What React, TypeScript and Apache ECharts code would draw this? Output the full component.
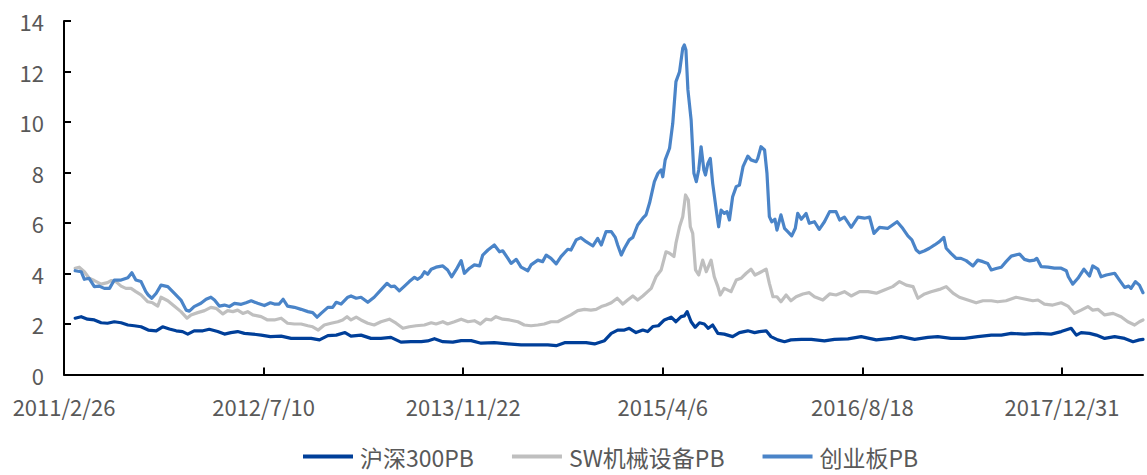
import React, { useEffect, useRef } from "react";
import * as echarts from "echarts";

// Days since 2011/2/26 and PB values
const hs300Days = [28,43,59,76,93,109,126,143,160,176,193,211,231,247,264,281,297,310,326,348,364,385,402,418,435,452,473,494,517,544,569,594,619,640,661,682,704,719,744,769,794,819,844,869,895,911,928,949,974,995,1020,1045,1078,1112,1145,1178,1212,1233,1254,1283,1308,1329,1354,1371,1387,1404,1416,1433,1450,1462,1475,1489,1504,1521,1533,1546,1554,1561,1571,1581,1592,1604,1614,1625,1638,1654,1675,1692,1713,1730,1742,1759,1771,1788,1805,1821,1847,1872,1905,1930,1964,1997,2035,2072,2097,2131,2164,2189,2222,2256,2289,2323,2348,2373,2406,2440,2473,2498,2523,2536,2548,2569,2586,2607,2632,2657,2678,2694,2703];
const hs300PB = [2.23,2.29,2.19,2.16,2.05,2.03,2.09,2.05,1.96,1.93,1.89,1.76,1.73,1.89,1.8,1.73,1.7,1.6,1.73,1.73,1.79,1.7,1.6,1.66,1.7,1.63,1.6,1.56,1.5,1.52,1.43,1.43,1.43,1.37,1.54,1.56,1.66,1.52,1.56,1.43,1.43,1.47,1.28,1.3,1.3,1.33,1.42,1.3,1.28,1.34,1.34,1.24,1.26,1.21,1.17,1.17,1.17,1.14,1.26,1.26,1.26,1.21,1.34,1.63,1.76,1.76,1.83,1.66,1.76,1.7,1.9,1.93,2.16,2.27,2.09,2.29,2.32,2.49,2.09,1.87,2.05,2.0,1.83,1.96,1.63,1.6,1.5,1.66,1.73,1.66,1.7,1.73,1.5,1.37,1.3,1.37,1.39,1.39,1.33,1.39,1.41,1.5,1.37,1.43,1.5,1.39,1.47,1.5,1.43,1.43,1.5,1.56,1.56,1.63,1.6,1.63,1.6,1.7,1.83,1.56,1.66,1.63,1.56,1.43,1.5,1.43,1.3,1.37,1.39];

const swDays = [28,38,51,63,76,93,109,118,130,143,155,168,180,193,210,222,235,243,260,276,293,308,318,335,352,368,381,398,410,423,435,448,460,473,485,494,510,527,544,560,577,594,611,623,637,652,669,686,698,709,719,732,744,761,777,794,815,832,849,865,882,903,920,932,949,961,978,995,1012,1028,1043,1057,1070,1082,1099,1116,1137,1153,1170,1187,1203,1220,1237,1254,1270,1287,1304,1320,1333,1346,1358,1371,1386,1400,1412,1425,1437,1450,1462,1471,1483,1496,1508,1517,1528,1533,1542,1550,1557,1564,1569,1575,1582,1590,1600,1609,1621,1629,1638,1644,1654,1671,1684,1696,1709,1721,1731,1740,1759,1767,1776,1786,1796,1809,1821,1834,1851,1867,1880,1901,1918,1934,1955,1972,1993,2014,2035,2055,2076,2093,2110,2127,2139,2156,2172,2193,2210,2227,2243,2264,2285,2302,2323,2339,2360,2385,2406,2427,2440,2456,2477,2498,2515,2531,2548,2565,2577,2590,2607,2628,2648,2665,2682,2694,2703];
const swPB = [4.21,4.25,4.07,3.81,3.72,3.58,3.64,3.72,3.68,3.5,3.41,3.41,3.28,3.15,2.88,2.84,2.71,3.06,2.92,2.71,2.49,2.23,2.36,2.45,2.53,2.66,2.62,2.4,2.53,2.49,2.55,2.42,2.49,2.36,2.32,2.29,2.16,2.16,2.23,2.03,2.0,2.0,1.93,1.89,1.76,1.96,2.03,2.09,2.16,2.29,2.16,2.27,2.16,2.03,1.96,2.09,2.19,2.03,1.83,1.89,1.93,1.96,2.05,2.0,2.09,2.0,2.09,2.19,2.09,2.13,2.0,2.19,2.16,2.29,2.19,2.16,2.09,1.96,1.93,1.96,2.0,2.09,2.09,2.23,2.36,2.53,2.58,2.55,2.58,2.69,2.75,2.84,3.02,2.79,2.95,3.11,2.95,3.11,3.28,3.41,3.87,4.14,4.86,4.8,4.67,5.2,5.85,6.25,7.11,6.91,5.85,5.59,4.14,3.94,4.53,4.07,4.53,3.87,3.48,3.15,3.41,3.28,3.74,3.81,4.01,4.17,3.94,4.01,4.17,3.61,3.08,3.08,2.88,3.15,2.92,3.08,3.19,3.24,3.08,2.95,3.19,3.15,3.28,3.11,3.28,3.28,3.22,3.35,3.48,3.68,3.54,3.48,3.02,3.19,3.28,3.37,3.48,3.22,3.06,2.95,2.84,2.92,2.92,2.88,2.92,3.06,2.99,2.92,2.95,2.79,2.75,2.84,2.71,2.42,2.55,2.69,2.55,2.58,2.36,2.42,2.29,2.09,1.96,2.09,2.16];

const cybDays = [28,43,51,63,76,88,101,114,126,143,160,170,180,193,205,211,220,231,243,260,276,293,306,314,326,343,356,368,377,389,402,414,427,444,456,469,485,502,517,527,539,549,560,577,594,611,623,634,644,661,673,682,694,711,719,732,744,761,777,794,809,819,828,840,853,865,878,886,895,903,911,920,932,949,961,971,982,995,1003,1016,1028,1041,1049,1062,1078,1091,1099,1112,1120,1133,1145,1162,1170,1187,1199,1208,1220,1233,1245,1262,1270,1283,1295,1308,1325,1337,1346,1358,1371,1381,1387,1396,1404,1416,1425,1437,1450,1458,1467,1479,1488,1496,1500,1506,1517,1525,1533,1542,1550,1554,1558,1563,1571,1578,1584,1590,1596,1603,1607,1613,1619,1625,1634,1640,1646,1654,1661,1667,1675,1684,1692,1701,1713,1721,1734,1738,1746,1755,1761,1767,1773,1781,1786,1796,1805,1813,1823,1832,1838,1847,1859,1867,1880,1892,1905,1918,1934,1943,1955,1972,1989,2005,2018,2029,2043,2064,2087,2101,2114,2124,2135,2143,2156,2168,2181,2193,2204,2210,2222,2235,2247,2260,2277,2289,2302,2314,2323,2335,2348,2360,2373,2394,2406,2419,2431,2437,2448,2465,2481,2498,2511,2516,2527,2540,2555,2569,2577,2590,2598,2611,2632,2644,2657,2667,2673,2684,2694,2703];
const cybPB = [4.11,4.07,3.77,3.81,3.48,3.5,3.41,3.41,3.74,3.74,3.83,4.03,3.74,3.68,3.28,3.15,3.02,3.22,3.54,3.48,3.22,2.95,2.55,2.51,2.69,2.82,2.98,3.06,2.95,2.71,2.75,2.69,2.82,2.78,2.84,2.92,2.82,2.73,2.84,2.79,2.79,2.98,2.71,2.66,2.58,2.49,2.45,2.27,2.42,2.66,2.66,2.86,2.79,3.06,3.11,3.02,3.06,2.86,3.06,3.35,3.61,3.48,3.5,3.31,3.5,3.68,3.85,3.77,3.87,4.07,3.97,4.17,4.25,4.3,4.14,3.87,4.14,4.51,4.01,4.21,4.34,4.3,4.73,4.93,5.13,4.86,4.9,4.6,4.4,4.56,4.25,4.11,4.34,4.53,4.47,4.73,4.6,4.38,4.67,4.96,4.93,5.33,5.42,5.26,5.09,5.39,5.13,5.66,5.66,5.43,5.13,4.73,5.0,5.33,5.43,5.92,6.19,6.32,6.8,7.64,7.97,8.1,7.83,8.5,8.96,9.95,11.6,11.99,12.92,13.05,12.85,11.27,10.08,7.97,7.64,8.1,9.02,8.1,7.9,8.36,8.56,7.57,6.51,5.85,6.51,6.38,6.45,6.12,7.04,7.44,7.5,8.23,8.65,8.5,8.43,8.56,9.02,8.89,7.97,6.25,6.05,6.15,5.72,6.32,5.79,5.66,5.49,5.79,6.38,6.15,6.38,5.99,6.05,5.75,6.05,6.45,6.45,6.12,6.23,5.83,6.23,6.19,6.23,5.59,5.83,5.79,6.05,5.79,5.49,5.33,4.93,4.82,4.9,5.0,5.13,5.26,5.43,5.0,4.8,4.6,4.6,4.51,4.3,4.53,4.47,4.4,4.14,4.2,4.25,4.47,4.69,4.77,4.56,4.5,4.53,4.6,4.27,4.25,4.21,4.21,4.11,3.87,3.58,3.81,4.17,3.9,4.3,4.17,3.87,3.94,4.01,3.74,3.45,3.5,3.41,3.68,3.54,3.24];

const seriesNames = ["沪深300PB", "SW机械设备PB", "创业板PB"];
const tickDays = [0, 500, 1000, 1500, 2000, 2500];
const startDate = [2011, 2, 26];

const FONT = "'Noto Sans CJK SC', 'Noto Sans', sans-serif";

function fmtDay(d: number): string {
  const base = Date.UTC(startDate[0], startDate[1] - 1, startDate[2]);
  const t = new Date(base + d * 86400000);
  return `${t.getUTCFullYear()}/${t.getUTCMonth() + 1}/${t.getUTCDate()}`;
}

function zip(xs: number[], ys: number[]) {
  return xs.map((x, i) => [x, ys[i]]);
}

export default function App() {
  const ref = useRef<HTMLDivElement>(null);
  useEffect(() => {
    document.body.style.margin = "0";
    const chart = echarts.init(ref.current!, null, { renderer: "svg" });
    const lineSeries = (name: string, data: number[][], color: string) => ({
      name,
      type: "line",
      data,
      showSymbol: false,
      symbol: "none",
      smooth: false,
      lineStyle: { color, width: 3.2, join: "round", cap: "round" },
      itemStyle: { color },
    });
    chart.setOption({
      animation: false,
      backgroundColor: "#ffffff",
      grid: { left: 64, right: 4, top: 21, bottom: 100.5, containLabel: false },
      legend: {
        bottom: 2,
        left: 298,
        icon: "rect",
        itemWidth: 50,
        itemHeight: 4,
        itemGap: 38,
        textStyle: { fontSize: 23, color: "#595959", fontFamily: FONT, padding: [0, 0, 0, 2] },
        data: seriesNames,
      },
      xAxis: {
        type: "value",
        min: 0,
        max: 2703,
        interval: 500,
        splitLine: { show: false },
        axisLine: { show: true, lineStyle: { color: "#000", width: 2 } },
        axisTick: { show: true, inside: true, length: 7, lineStyle: { color: "#000", width: 2 }, customValues: tickDays },
        axisLabel: {
          customValues: tickDays,
          formatter: (v: number) => fmtDay(v),
          fontSize: 22,
          color: "#595959",
          fontFamily: FONT,
          margin: 20,
          hideOverlap: false,
        },
      },
      yAxis: {
        type: "value",
        min: 0,
        max: 14,
        interval: 2,
        splitLine: { show: false },
        axisLine: { show: true, lineStyle: { color: "#000", width: 2 } },
        axisTick: { show: true, inside: true, length: 7, lineStyle: { color: "#000", width: 2 } },
        axisLabel: { fontSize: 22, color: "#595959", fontFamily: FONT, margin: 20 },
      },
      series: [
        lineSeries(seriesNames[0], zip(hs300Days, hs300PB), "#003F99"),
        lineSeries(seriesNames[1], zip(swDays, swPB), "#BFBFBF"),
        lineSeries(seriesNames[2], zip(cybDays, cybPB), "#4A84C8"),
      ],
    });
    return () => chart.dispose();
  }, []);
  return <div ref={ref} style={{ width: 1147, height: 475 }} />;
}
